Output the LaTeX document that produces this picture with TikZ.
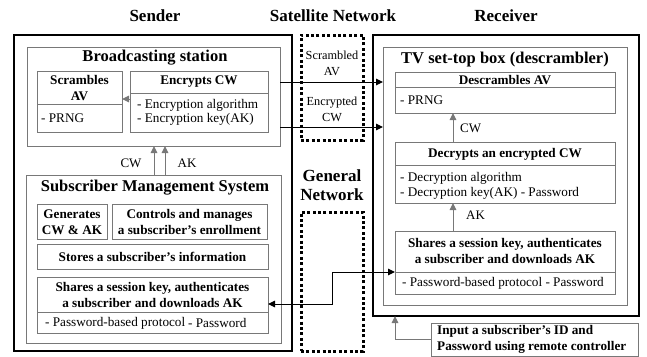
\documentclass[tikz,border=0pt]{standalone}
\usepackage{fontspec}
\setmainfont{Liberation Serif}
\usetikzlibrary{arrows.meta}
\definecolor{gline}{RGB}{120,120,120}
\tikzset{
  thickbox/.style={draw=black, line width=2.8pt, inner sep=0pt, outer sep=0pt},
  gbox/.style={draw=gline, line width=0.8pt, inner sep=0pt, outer sep=0pt},
  dotbox/.style={draw=black, line width=3pt, dash pattern=on 3pt off 2.4pt, inner sep=0pt, outer sep=0pt},
  divline/.style={draw=gline, line width=0.8pt},
  head/.style={font=\fontsize{17}{19}\selectfont\bfseries, inner sep=0pt},
  title/.style={font=\fontsize{16.5}{19}\selectfont\bfseries, inner sep=0pt},
  bt/.style={font=\fontsize{13.2}{15.5}\selectfont\bfseries, inner sep=0pt, align=center},
  rt/.style={font=\fontsize{13.2}{15}\selectfont, inner sep=0pt, align=left},
  lbl/.style={font=\fontsize{13}{15}\selectfont, inner sep=0pt},
  tip/.style={-{Triangle[length=7pt,width=6.5pt]}},
  arr/.style={tip, draw=black, line width=1pt},
  garr/.style={tip, draw=gline, line width=1pt},
  darr/.style={{Triangle[length=7pt,width=6.5pt]}-{Triangle[length=7pt,width=6.5pt]}, draw=black, line width=1pt},
}
\begin{document}
\begin{tikzpicture}[x=1pt,y=-1pt]
\useasboundingbox (0,0) rectangle (647,356);
% headings
\node[head] (hs) at (155,16) {Sender};
\node[head] (hsat) at (333,16) {Satellite Network};
\node[head] (hr) at (506,16) {Receiver};

% ---------- Sender ----------
\node[thickbox, anchor=north west, minimum width=278pt, minimum height=316pt] (sender) at (14,35) {};
\node[gbox, anchor=north west, minimum width=253pt, minimum height=99pt] (bs) at (27,47) {};
\node[title] (bst) at (155,58) {Broadcasting station};

\node[gbox, anchor=north west, minimum width=85pt, minimum height=61pt] (scr) at (37,71) {};
\draw[divline] (37,104) -- (122,104);
\node[bt] (scrt) at (79.5,88) {Scrambles\\AV};
\node[rt, anchor=west] (scrp) at (41,118) {- PRNG};

\node[gbox, anchor=north west, minimum width=138pt, minimum height=61pt] (enc) at (130,71) {};
\draw[divline] (130,93) -- (268,93);
\node[bt] (enct) at (199,82) {Encrypts CW};
\node[rt, anchor=west] (enc1) at (137,105) {- Encryption algorithm};
\node[rt, anchor=west] (enc2) at (137,119) {- Encryption key(AK)};
\draw[garr] (enc.west |- 0,99) -- (scr.east |- 0,99);

\node[gbox, anchor=north west, minimum width=255pt, minimum height=168pt] (sms) at (26,175) {};
\node[title] (smst) at (155,188) {Subscriber Management System};
\node[gbox, anchor=north west, minimum width=70pt, minimum height=35pt] (gen) at (37,204) {};
\node[bt] (gent) at (72,222) {Generates\\CW \& AK};
\node[gbox, anchor=north west, minimum width=155pt, minimum height=35pt] (ctl) at (112,204) {};
\node[bt] (ctlt) at (189.5,222) {Controls and manages\\a subscriber’s enrollment};
\node[gbox, anchor=north west, minimum width=231pt, minimum height=25pt] (sto) at (37,244) {};
\node[bt] (stot) at (152.5,257) {Stores a subscriber’s information};
\node[gbox, anchor=north west, minimum width=231pt, minimum height=56pt] (ssh) at (37,277) {};
\draw[divline] (37,312) -- (268,312);
\node[bt] (ssht) at (152.5,295) {Shares a session key, authenticates\\a subscriber and downloads AK};
\node[rt, anchor=west] (ssp1) at (45,323) {- Password-based protocol};
\node[rt, anchor=west] (ssp2) at (188,323) {- Password};

\draw[garr] (sms.north -| 154,0) -- (bs.south -| 154,0);
\draw[garr] (sms.north -| 165,0) -- (bs.south -| 165,0);
\node[lbl] (lcw) at (131,163) {CW};
\node[lbl] (lak) at (187,163) {AK};

% ---------- Networks ----------
\node[dotbox, anchor=north west, minimum width=62pt, minimum height=105pt] (sat) at (301,35) {};
\node[lbl, align=center, font=\fontsize{12.3}{16}\selectfont] (satt1) at (332,63) {Scrambled\\AV};
\node[lbl, align=center, font=\fontsize{12.3}{16}\selectfont] (satt2) at (332,109) {Encrypted\\CW};

\node[head, align=center, font=\fontsize{17}{19.5}\selectfont\bfseries] (gnt) at (332,185) {General\\Network};
\node[dotbox, anchor=north west, minimum width=62pt, minimum height=139pt] (gnet) at (301,212) {};

% ---------- Receiver ----------
\node[thickbox, anchor=north west, minimum width=266pt, minimum height=281pt] (recv) at (373,35) {};
\node[gbox, anchor=north west, minimum width=244pt, minimum height=258pt] (tv) at (383,47) {};
\node[title] (tvt) at (505,60) {TV set-top box (descrambler)};

\node[gbox, anchor=north west, minimum width=220pt, minimum height=41pt] (des) at (395,72) {};
\draw[divline] (395,87) -- (615,87);
\node[bt] (dest) at (505,80) {Descrambles AV};
\node[rt, anchor=west] (desp) at (400,100) {- PRNG};

\node[gbox, anchor=north west, minimum width=220pt, minimum height=61pt] (dec) at (395,142) {};
\draw[divline] (395,165) -- (615,165);
\node[bt] (dect) at (505,154) {Decrypts an encrypted CW};
\node[rt, anchor=west] (dec1) at (400,178) {- Decryption algorithm};
\node[rt, anchor=west] (dec2) at (400,193) {- Decryption key(AK) - Password};

\node[gbox, anchor=north west, minimum width=220pt, minimum height=63pt] (rsh) at (395,231) {};
\draw[divline] (395,272) -- (615,272);
\node[bt] (rsht) at (505,251) {Shares a session key, authenticates\\a subscriber and downloads AK};
\node[rt, anchor=west] (rsp) at (402,283) {- Password-based protocol - Password};

\draw[garr] (dec.north -| 453,0) -- (des.south -| 453,0);
\node[lbl, anchor=west] (rcw) at (460,128) {CW};
\draw[garr] (rsh.north -| 453,0) -- (dec.south -| 453,0);
\node[lbl, anchor=west] (rak) at (466,215) {AK};

\node[gbox, anchor=north west, minimum width=207pt, minimum height=33pt] (inp) at (431,323) {};
\node[bt, align=left, anchor=west] (inpt) at (437,339.5) {Input a subscriber’s ID and\\Password using remote controller};
\draw[garr] (inp.west |- 0,339) -| (recv.south -| 395,0);

% ---------- connectors ----------
\draw[arr] (bs.east |- 0,82) -- (tv.west |- 0,82);
\draw[arr] (bs.east |- 0,127) -- (tv.west |- 0,127);
\draw[darr] (rsh.west |- 0,272) -- (332,272) -- (332,304) -- (ssh.east |- 0,304);
\end{tikzpicture}
\end{document}
